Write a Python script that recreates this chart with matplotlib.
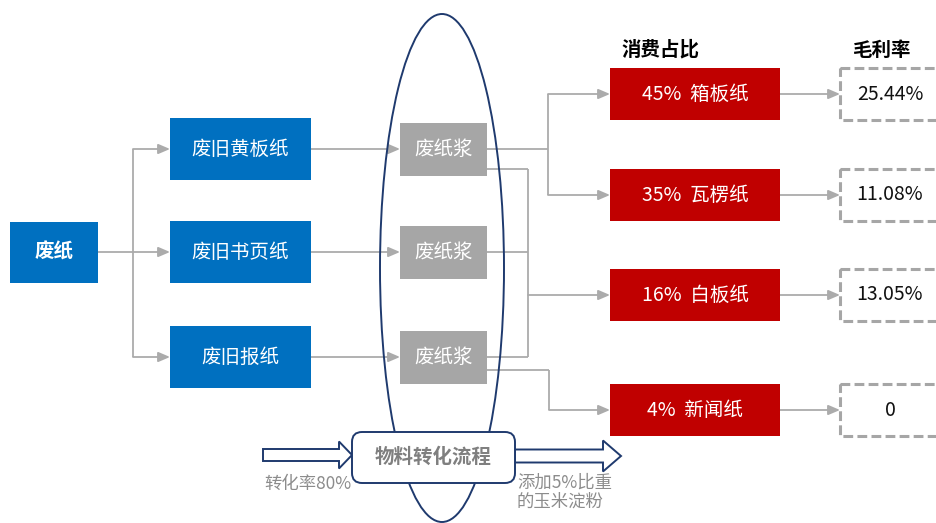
import matplotlib
matplotlib.use('Agg')
from matplotlib import pyplot as plt
from matplotlib import patches

plt.rcParams['font.family'] = ['Noto Sans CJK SC', 'DejaVu Sans']

# data
source = '废纸'
grades = ['废旧黄板纸', '废旧书页纸', '废旧报纸']
pulp = ['废纸浆', '废纸浆', '废纸浆']
products = ['箱板纸', '瓦楞纸', '白板纸', '新闻纸']
shares = [45, 35, 16, 4]
margins = ['25.44%', '11.08%', '13.05%', '0']
process_label = '物料转化流程'
note_in = '转化率80%'
note_out = ['添加5%比重', '的玉米淀粉']

BLUE = '#0070C0'
RED = '#C00000'
GRAY = '#A6A6A6'
LINE = '#ABABAB'
NAVY = '#1F3A6E'
FS = 14

fig = plt.figure(figsize=(9.36, 5.23), dpi=100)
ax = fig.add_axes([0, 0, 1, 1])
ax.set_xlim(0, 936)
ax.set_ylim(523, 0)
ax.axis('off')


def box(x0, y0, w, h, color, text, bold=False, fs=FS, tc='white', z=3):
    ax.add_patch(patches.Rectangle((x0, y0), w, h, fc=color, ec='none', zorder=z))
    ax.text(x0 + w / 2, y0 + h / 2, text, color=tc, fontsize=fs, ha='center', va='center',
            fontweight='bold' if bold else 'normal', zorder=z + 1)


def arrow(x0, y0, x1, y1):
    ax.annotate('', xy=(x1, y1), xytext=(x0, y0),
                arrowprops=dict(arrowstyle='-|>,head_length=0.7,head_width=0.3', color=LINE, lw=1.3,
                                shrinkA=0, shrinkB=0), zorder=2)


def line(xs, ys):
    ax.plot(xs, ys, color=LINE, lw=1.3, zorder=2, solid_capstyle='butt')


# left part
grade_y = [149, 252, 357]
box(10, 222, 88, 61, BLUE, source, bold=True)
line([98, 133], [252, 252])
line([133, 133], [grade_y[0], grade_y[-1]])
for gy, name, p in zip(grade_y, grades, pulp):
    arrow(133, gy, 170, gy)
    box(170, gy - 31, 141, 62, BLUE, name)
    arrow(311, gy, 400, gy)
    box(400, gy - 26, 87, 53, GRAY, p)

# ellipse around pulp
ax.add_patch(patches.Ellipse((442, 268), 124, 508, fill=False, ec=NAVY, lw=1.4, zorder=5))

# products
prod_y = [94, 195, 295, 410]
for py, name, s, m in zip(prod_y, products, shares, margins):
    box(610, py - 26, 170, 52, RED, f'{s}%  {name}')
    arrow(780, py, 840, py)
    ax.add_patch(patches.Rectangle((840, py - 26), 105, 52, fill=False, ec=GRAY, lw=2.2,
                                   linestyle=(0, (3.2, 1.4)), zorder=3))
    ax.text(890, py, m, fontsize=FS, ha='center', va='center', color='#111111', zorder=4)

ax.text(661, 50, '消费占比', fontsize=FS, fontweight='bold', ha='center', va='center')
ax.text(881, 50, '毛利率', fontsize=FS, fontweight='bold', ha='center', va='center')

# pulp -> products connectors
line([487, 548], [149, 149])
line([548, 548], [prod_y[0], prod_y[1]])
arrow(548, prod_y[0], 610, prod_y[0])
arrow(548, prod_y[1], 610, prod_y[1])

line([487, 528], [169, 169])
line([487, 528], [252, 252])
line([487, 528], [357, 357])
line([528, 528], [169, 357])
arrow(528, prod_y[2], 610, prod_y[2])

line([487, 549], [370, 370])
line([549, 549], [370, prod_y[3]])
arrow(549, prod_y[3], 610, prod_y[3])

# process box and block arrows
ax.add_patch(patches.FancyArrow(263, 455, 89, 0, width=12, head_width=27, head_length=13,
                                length_includes_head=True, fc='white', ec=NAVY, lw=1.4, zorder=6))
ax.add_patch(patches.FancyArrow(515, 456, 106, 0, width=13, head_width=31, head_length=18,
                                length_includes_head=True, fc='white', ec=NAVY, lw=1.4, zorder=6))
ax.add_patch(patches.FancyBboxPatch((352, 432), 163, 51, boxstyle='round,pad=0,rounding_size=10',
                                    fc='white', ec=NAVY, lw=1.4, zorder=7))
ax.text(433.5, 457.5, process_label, fontsize=FS, fontweight='bold', color='#7F7F7F',
        ha='center', va='center', zorder=8)

ax.text(308, 484, note_in, fontsize=12.5, style='italic', color='#8C8C8C', ha='center', va='center')
for i, t in enumerate(note_out):
    ax.text(517, 483 + 19 * i, t, fontsize=12.5, style='italic', color='#8C8C8C',
            ha='left', va='center')

fig.savefig('out.png', dpi=100)
